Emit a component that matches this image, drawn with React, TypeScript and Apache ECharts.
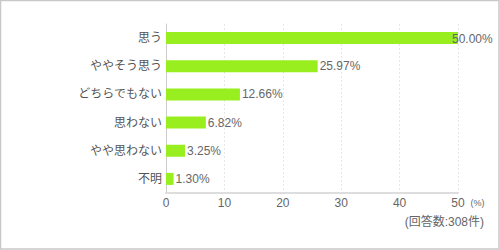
import React, { useEffect, useRef } from "react";
import * as echarts from "echarts";

const categories = ["思う", "ややそう思う", "どちらでもない", "思わない", "やや思わない", "不明"];
const values = [50.0, 25.97, 12.66, 6.82, 3.25, 1.3];
const unitLabel = "(%)";
const noteLabel = "(回答数:308件)";

const FONT = "'Liberation Sans', 'Noto Sans CJK JP', sans-serif";

export default function App() {
  const ref = useRef<HTMLDivElement>(null);
  useEffect(() => {
    if (!ref.current) return;
    const chart = echarts.init(ref.current, null, { renderer: "svg" });
    chart.setOption({
      animation: false,
      textStyle: { fontFamily: FONT },
      grid: { left: 166, right: 42, top: 24, bottom: 57 },
      xAxis: {
        type: "value",
        min: 0,
        max: 50,
        interval: 10,
        name: unitLabel,
        nameLocation: "end",
        nameGap: 12,
        nameTextStyle: {
          color: "#666",
          fontSize: 9,
          fontFamily: FONT,
          verticalAlign: "top",
          padding: [5, 0, 0, 0],
        },
        axisLine: { show: true, lineStyle: { color: "#dddddd", width: 2 } },
        axisTick: { show: false },
        axisLabel: { color: "#666", fontSize: 12, margin: 4, fontFamily: FONT },
        splitLine: { show: true, lineStyle: { color: "#e6e6e6", type: [2, 2], width: 1 } },
      },
      yAxis: {
        type: "category",
        inverse: true,
        data: categories,
        axisLine: { show: true, lineStyle: { color: "#cccccc", width: 1 } },
        axisTick: { show: false },
        axisLabel: { color: "#555", fontSize: 12, margin: 4, fontFamily: FONT },
        splitLine: { show: false },
      },
      series: [
        {
          type: "bar",
          barWidth: 12,
          data: values.map((v, i) =>
            i === 0 ? { value: v, label: { offset: [-8, 1] } } : { value: v }
          ),
          itemStyle: { color: "#99ee1f" },
          label: {
            show: true,
            position: "right",
            distance: 2,
            color: "#666",
            fontSize: 12,
            fontFamily: FONT,
            formatter: (p: any) => Number(p.value).toFixed(2) + "%",
          },
        },
      ],
      graphic: [
        {
          type: "rect",
          shape: { x: 0.5, y: 0.5, width: 498.5, height: 248.5 },
          style: { fill: "none", stroke: "#c8c8c8", lineWidth: 1.5 },
          silent: true,
        },
        {
          type: "text",
          x: 484,
          y: 222,
          style: {
            text: noteLabel,
            fill: "#666",
            fontSize: 12,
            fontFamily: FONT,
            align: "right",
            verticalAlign: "middle",
          },
        },
      ],
    });
    return () => chart.dispose();
  }, []);
  return (
    <div
      ref={ref}
      style={{ position: "absolute", left: 0, top: 0, width: 500, height: 250, background: "#fff" }}
    />
  );
}
